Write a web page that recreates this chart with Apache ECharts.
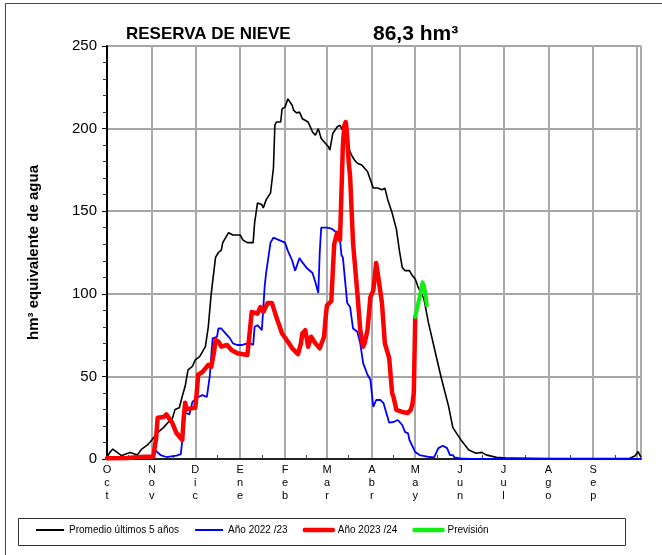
<!DOCTYPE html>
<html><head><meta charset="utf-8">
<script src="https://cdn.jsdelivr.net/npm/echarts@6/dist/echarts.min.js"></script>
<style>html,body{margin:0;padding:0;background:#fff}#c{width:662px;height:555px}</style>
</head><body><div id="c"></div>
<script>
// X axis: days counted from 1 October
const monthNames = ['Oct','Nov','Dic','Ene','Feb','Mar','Abr','May','Jun','Jul','Ago','Sep'];
const monthStartDay = [0,31,61,92,123,152,183,213,244,274,305,336];
const yearEndDay = 366;
const lastDay = 369;
const dayCategories = Array.from({length: lastDay + 1}, (_, i) => String(i));

// Promedio últimos 5 años
const promedioDays   = [0,2,4,7,10,13,16,19,21,24,28,31,35,39,42,45,47,50,52,54,56,59,61,64,68,70,72,75,77,79,80,84,87,92,94,97,101,102,104,107,108,110,113,114,115,116,117,120,121,123,125,128,129,131,133,135,139,142,144,146,148,151,153,154,156,159,161,163,166,168,169,171,173,176,180,182,184,187,190,192,194,197,200,202,204,206,209,211,213,215,219,222,227,231,236,239,245,250,255,259,262,269,278,306,340,361,365,367,369];
const promedioValues = [1,4,6,4,2,3,4,3,2.5,6,8.5,11.5,16,19,22,24,30,31,38,44,54,56,60,62,68,80,100,122,125,126.5,131,137,135.6,135.6,132.5,131,131,143,155,154,152,157,161,162,176,202,204,204,212,213,218,214,211,209.5,210,206,204,198,196,200,194,191,189,187,197,201,202,199,191,186,184,181,179,178,174,169,164,164,163,164,157,149,139,126.5,116,114,114,111,109,104,97,83,64,49,32,19,11,5.5,3.5,4,2.5,1,0.5,0.3,0.3,0.3,2,4.5,1];

// Año 2022/23
const y2223Days   = [0,30,32,33,34,37,41,48,51,52,53,54,57,59,63,66,69,71,72,73,76,77,79,81,85,87,90,93,94,97,99,101,102,104,107,109,110,113,115,119,123,125,128,130,133,135,138,142,144,146,147,148,152,155,159,161,162,163,166,168,170,173,175,177,180,182,184,186,189,191,193,195,198,201,204,206,208,209,213,216,223,226,229,232,235,237,239,240,244,251,369];
const y2223Values = [0,0,0.5,5.5,5.5,2.4,1.2,2,3,3.6,19,28,27,34.5,37.5,38.7,37.5,50,62,73,74,79,79,77,73,70,69,69,68,70,70,69,80,81,78,105,113,131,134,132.5,131,126,120,114,121.6,119,115.6,112.6,107,100.5,125,140,140,139.5,137,133,123.5,122,94.4,92,79,77,70,58,51,48,31.5,35.7,35.7,34,28,22,22.4,23.6,20.6,16.3,15.7,11.5,4.2,2.4,1.2,1,6.6,8,6.6,2.4,2.4,1,0.3,0,0];

// Año 2023/24
const y2324Days   = [0,14,23,32,34,35,39,41,45,48,52,53,54,55,57,61,62,63,66,70,72,74,75,77,79,83,86,90,97,98,99,100,101,104,106,108,111,114,117,121,125,128,132,134,135,137,139,141,144,147,150,151,152,155,156,157,159,160,161,162,163,164,165,166,167,168,170,173,175,177,178,180,182,184,186,187,190,192,195,197,198,200,204,208,210,211,212,213];
const y2324Values = [0.5,0.6,1.2,1.5,13,25,25.4,27,22,15.7,11.5,25,34,30,30.5,31,40,51,52.7,57,55.7,65,72,71,68,69,66,64,63,63,80,89,90,88,92,89,94.4,94.4,86,76,71,67,63.5,70,76,78,68,74,70,67,74,85,93,95.5,113,130,137,134,132.5,161,190,202,204,195,180,171,131,100.5,78,68,70,78,98,102,118.6,113,94.4,70,61,40,37.5,29.7,28.5,27.9,30,33,40,86];

// Previsión
const previsionDays   = [213,215,217,218,219,220,221];
const previsionValues = [86,94,102,107,105,100,93];

const zip = (d, v) => d.map((x, i) => [x, v[i]]);
const FONT = 'Liberation Sans, Arial, sans-serif';
const monthAt = {};
monthStartDay.forEach((d, i) => monthAt[d] = monthNames[i]);
const midMonth = new Set(monthStartDay.map(d => d + 15));

const chart = echarts.init(document.getElementById('c'));
chart.setOption({
  animation: false,
  backgroundColor: '#fff',
  textStyle: {fontFamily: FONT},
  title: [
    {text: 'RESERVA DE NIEVE', left: 121, top: 21, textStyle: {fontFamily: FONT, fontSize: 17, fontWeight: 'bold', color: '#000'}},
    {text: '86,3 hm³', left: 368, top: 19, textStyle: {fontFamily: FONT, fontSize: 21, fontWeight: 'bold', color: '#000'}}
  ],
  graphic: [
    {type: 'rect', left: 3, top: 1, shape: {width: 700, height: 700}, style: {fill: 'none', stroke: '#444', lineWidth: 1}, silent: true},
    {type: 'rect', left: 18, top: 518, shape: {width: 607, height: 27}, style: {fill: '#fff', stroke: '#333', lineWidth: 1}, silent: true, z: 0}
  ],
  legend: {
    left: 35, top: 525, padding: 0, itemWidth: 28, itemHeight: 12, itemGap: 15,
    itemStyle: {color: 'rgba(0,0,0,0)', borderWidth: 0, opacity: 0},
    textStyle: {fontFamily: FONT, fontSize: 10, color: '#000'},
    data: [
      {name: 'Promedio últimos 5 años', lineStyle: {width: 2}},
      {name: 'Año 2022 /23', lineStyle: {width: 2}},
      {name: 'Año 2023 /24', lineStyle: {width: 4.5}},
      {name: 'Previsión', lineStyle: {width: 4.5}}
    ],
    z: 5
  },
  grid: {left: 107, right: 21, top: 46, bottom: 96, containLabel: false},
  xAxis: {
    type: 'category',
    data: dayCategories,
    boundaryGap: false,
    axisLine: {lineStyle: {color: '#222', width: 2}},
    axisTick: {show: true, inside: true, length: 4, interval: (i) => midMonth.has(i), lineStyle: {color: '#444'}},
    axisLabel: {
      interval: (i) => monthAt[i] !== undefined,
      formatter: (v, i) => monthAt[i] ? monthAt[i].split('').join('\n') : '',
      fontFamily: FONT, fontSize: 11, lineHeight: 13, color: '#000', margin: 4
    },
    splitLine: {show: true, interval: (i) => (i > 0 && monthAt[i] !== undefined) || i === yearEndDay || i === lastDay,
      lineStyle: {color: '#aaaaaa', width: 2}}
  },
  yAxis: {
    type: 'value', min: 0, max: 250, interval: 50,
    name: 'hm³ equivalente de agua', nameLocation: 'middle', nameRotate: 90, nameGap: 66,
    nameTextStyle: {fontFamily: FONT, fontSize: 15, fontWeight: 'bold', color: '#000'},
    axisLine: {show: true, lineStyle: {color: '#000', width: 2}},
    axisTick: {show: true, length: 5, lineStyle: {color: '#000'}},
    minorTick: {show: true, splitNumber: 5, length: 4, lineStyle: {color: '#333'}},
    axisLabel: {fontFamily: FONT, fontSize: 15, color: '#000', margin: 10},
    splitLine: {show: true, lineStyle: {color: '#888888', width: 1.5}}
  },
  series: [
    {name: 'Promedio últimos 5 años', type: 'line', data: zip(promedioDays, promedioValues), symbol: 'none',
     lineStyle: {color: '#000', width: 1.6}, itemStyle: {color: '#000'}, z: 2},
    {name: 'Año 2022 /23', type: 'line', data: zip(y2223Days, y2223Values), symbol: 'none',
     lineStyle: {color: '#0000ff', width: 1.8}, itemStyle: {color: '#0000ff'}, z: 3},
    {name: 'Año 2023 /24', type: 'line', data: zip(y2324Days, y2324Values), symbol: 'none',
     lineStyle: {color: '#ff0000', width: 4.5, cap: 'round', join: 'round'}, itemStyle: {color: '#ff0000'}, z: 4},
    {name: 'Previsión', type: 'line', data: zip(previsionDays, previsionValues), symbol: 'none',
     lineStyle: {color: '#11ee11', width: 4, cap: 'round', join: 'round'}, itemStyle: {color: '#11ee11'}, z: 5}
  ]
});
</script></body></html>
